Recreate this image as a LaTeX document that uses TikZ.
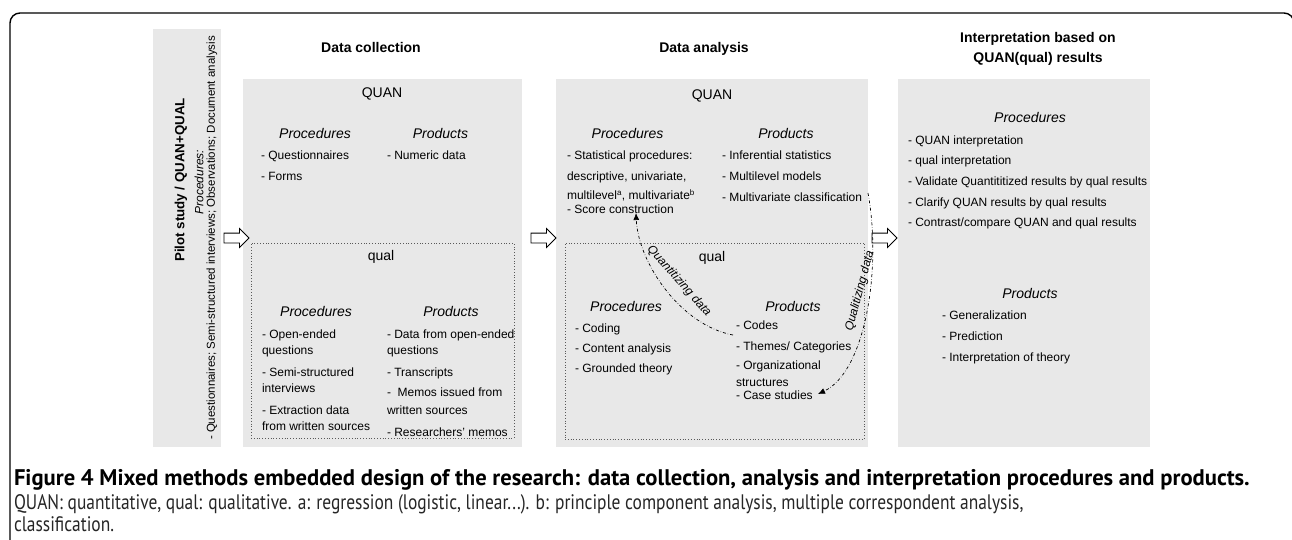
\documentclass[tikz,border=0pt]{standalone}
\usepackage{fontspec}
\setmainfont{Liberation Sans}
\newfontfamily\capfont{PT Sans}
\newfontfamily\capnarrow{PT Sans}[FakeStretch=0.83]
\usetikzlibrary{shapes.arrows,arrows.meta}
\definecolor{panelgray}{HTML}{E8E8E8}
\begin{document}
\begin{tikzpicture}[x=1pt,y=-1pt,
 every node/.style={inner sep=0pt, outer sep=0pt},
 ttl/.style={font=\fontsize{14}{18}\selectfont\bfseries, anchor=base},
 hdr/.style={font=\fontsize{14}{16}\selectfont\itshape, anchor=base},
 sect/.style={font=\fontsize{14}{16}\selectfont, anchor=base},
 itm/.style={font=\fontsize{12}{14}\selectfont, anchor=base west},
 panel/.style={fill=panelgray, draw=none},
 qualbox/.style={draw=black!65, dotted, line width=0.8pt},
 bigarrow/.style={single arrow, draw=black, fill=white, line width=0.8pt, minimum height=25pt, single arrow head extend=4.5pt, single arrow tip angle=90, inner sep=0pt},
 flow/.style={dash dot, line width=0.7pt, -{Latex[length=7pt,width=6pt]}},
 flowlbl/.style={font=\fontsize{12}{14}\selectfont\itshape},
 caption/.style={anchor=base west}
]
\fill[white] (0,0) rectangle (1292,539);
\useasboundingbox (0,0) rectangle (1292,539);
% outer frame
\draw[line width=1.4pt, rounded corners=10pt] (10,560) -- (10,13) -- (1294,13) -- (1294,560);

% panels
\node[panel, minimum width=68pt, minimum height=418pt] (pilot) at (187,238) {};
\node[panel, minimum width=279pt, minimum height=368pt] (dc) at (382.5,263) {};
\node[qualbox, minimum width=263pt, minimum height=195pt] (dcq) at (382.5,340.5) {};
\node[panel, minimum width=312pt, minimum height=368pt] (da) at (712,263) {};
\node[qualbox, minimum width=299pt, minimum height=196pt] (daq) at (714.5,341) {};
\node[panel, minimum width=252pt, minimum height=368pt] (ip) at (1024,263) {};

% pilot texts
\node[rotate=90, font=\fontsize{13.3}{15}\selectfont\bfseries] (pilott) at (181,180) {Pilot study / QUAN+QUAL};
\node[rotate=90, font=\fontsize{12}{14}\selectfont\itshape] (pilotp) at (199,182) {Procedures:};
\node[rotate=90, font=\fontsize{11.5}{14}\selectfont] (pilotl) at (212,238) {- Questionnaires; Semi-structured interviews; Observations; Document analysis};

% block arrows
\node[bigarrow] (ar1) at (234,238) {\rule{0pt}{9pt}};
\node[bigarrow] (ar2) at (541,238) {\rule{0pt}{9pt}};
\node[bigarrow] (ar3) at (882,238) {\rule{0pt}{9pt}};

% titles
\node[ttl] (t1) at (371,52) {Data collection};
\node[ttl] (t2) at (704,52) {Data analysis};
\node[ttl] (t3a) at (1038,42) {Interpretation based on};
\node[ttl] (t3b) at (1038,62) {QUAN(qual) results};

% data collection QUAN
\node[sect] (dcQ) at (382,97) {QUAN};
\node[hdr] (dcQpr) at (315,138) {Procedures};
\node[hdr] (dcQpd) at (440.5,138) {Products};
\node[itm] (dcQ1) at (261,159.5) {- Questionnaires};
\node[itm] (dcQ2) at (261,180.5) {- Forms};
\node[itm] (dcQ3) at (387,159.5) {- Numeric data};

% data collection qual
\node[sect] (dcq) at (381,260) {qual};
\node[hdr] (dcqpr) at (316,316) {Procedures};
\node[hdr] (dcqpd) at (451,316) {Products};
\node[itm] (dcql1) at (262,338.5) {- Open-ended};
\node[itm] (dcql2) at (262,354.5) {questions};
\node[itm] (dcql3) at (262,376.5) {- Semi-structured};
\node[itm] (dcql4) at (262,392.5) {interviews};
\node[itm] (dcql5) at (262,414) {- Extraction data};
\node[itm] (dcql6) at (262,430) {from written sources};
\node[itm] (dcqr1) at (387,338.5) {- Data from open-ended};
\node[itm] (dcqr2) at (387,354.5) {questions};
\node[itm] (dcqr3) at (387,376.5) {- Transcripts};
\node[itm] (dcqr4) at (387,396.5) {-\ \ Memos issued from};
\node[itm] (dcqr5) at (387,414.5) {written sources};
\node[itm] (dcqr6) at (387,436) {- Researchers' memos};

% data analysis QUAN
\node[sect] (daQ) at (712,99) {QUAN};
\node[hdr] (daQpr) at (627.5,138) {Procedures};
\node[hdr] (daQpd) at (786,138) {Products};
\node[itm] (daQl1) at (567,159.5) {- Statistical procedures:};
\node[itm] (daQl2) at (567,180) {descriptive, univariate,};
\node[itm] (daQl3) at (567,199.5) {multilevel\textsuperscript{a}, multivariate\textsuperscript{b}};
\node[itm] (daQl4) at (567,213) {- Score construction};
\node[itm] (daQr1) at (722,159.5) {- Inferential statistics};
\node[itm] (daQr2) at (722,180.5) {- Multilevel models};
\node[itm] (daQr3) at (722,201.5) {- Multivariate classification};

% data analysis qual
\node[sect] (daq) at (712,261) {qual};
\node[hdr] (daqpr) at (626,311) {Procedures};
\node[hdr] (daqpd) at (793,311) {Products};
\node[itm] (daql1) at (575,332.5) {- Coding};
\node[itm] (daql2) at (575,352.5) {- Content analysis};
\node[itm] (daql3) at (575,372.5) {- Grounded theory};
\node[itm] (daqr1) at (736,329.5) {- Codes};
\node[itm] (daqr2) at (736,350.5) {- Themes/ Categories};
\node[itm] (daqr3) at (736,369.5) {- Organizational};
\node[itm] (daqr4) at (736,386.5) {structures};
\node[itm] (daqr5) at (736,399.5) {- Case studies};

% interpretation
\node[hdr] (ippr) at (1030,122) {Procedures};
\node[itm] (ip1) at (908,144.5) {- QUAN interpretation};
\node[itm] (ip2) at (908,164.5) {- qual interpretation};
\node[itm] (ip3) at (908,185.5) {- Validate Quantititized results by qual results};
\node[itm] (ip4) at (908,206.5) {- Clarify QUAN results by qual results};
\node[itm] (ip5) at (908,226.5) {- Contrast/compare QUAN and qual results};
\node[hdr] (ippd) at (1030,298) {Products};
\node[itm] (ip6) at (942,319.5) {- Generalization};
\node[itm] (ip7) at (942,340.5) {- Prediction};
\node[itm] (ip8) at (942,361.5) {- Interpretation of theory};

% conversion arrows
\coordinate (qnS) at (733,335);
\coordinate (qnE) at (636,213);
\draw[flow] (qnS) .. controls (680,325) and (638,262) .. (qnE);
\node[flowlbl, rotate=-48.5] (qnL) at (679,281) {Quantitizing data};
\coordinate (qlS) at (868,193);
\coordinate (qlE) at (818,394);
\draw[flow] (qlS) .. controls (882,270) and (865,372) .. (qlE);
\node[flowlbl, rotate=75] (qlL) at (860,291) {Qualitizing data};

% caption
\node[caption, font=\capfont\fontsize{22.6}{24}\selectfont\bfseries] (cap1) at (14,485) {Figure 4 Mixed methods embedded design of the research: data collection, analysis and interpretation procedures and products.};
\node[caption, font=\capnarrow\fontsize{21}{24}\selectfont, text=black!85] (cap2) at (14,509) {QUAN: quantitative, qual: qualitative. a: regression (logistic, linear...). b: principle component analysis, multiple correspondent analysis,};
\node[caption, font=\capnarrow\fontsize{21}{24}\selectfont, text=black!85] (cap3) at (14,531) {classification.};
\end{tikzpicture}
\end{document}
